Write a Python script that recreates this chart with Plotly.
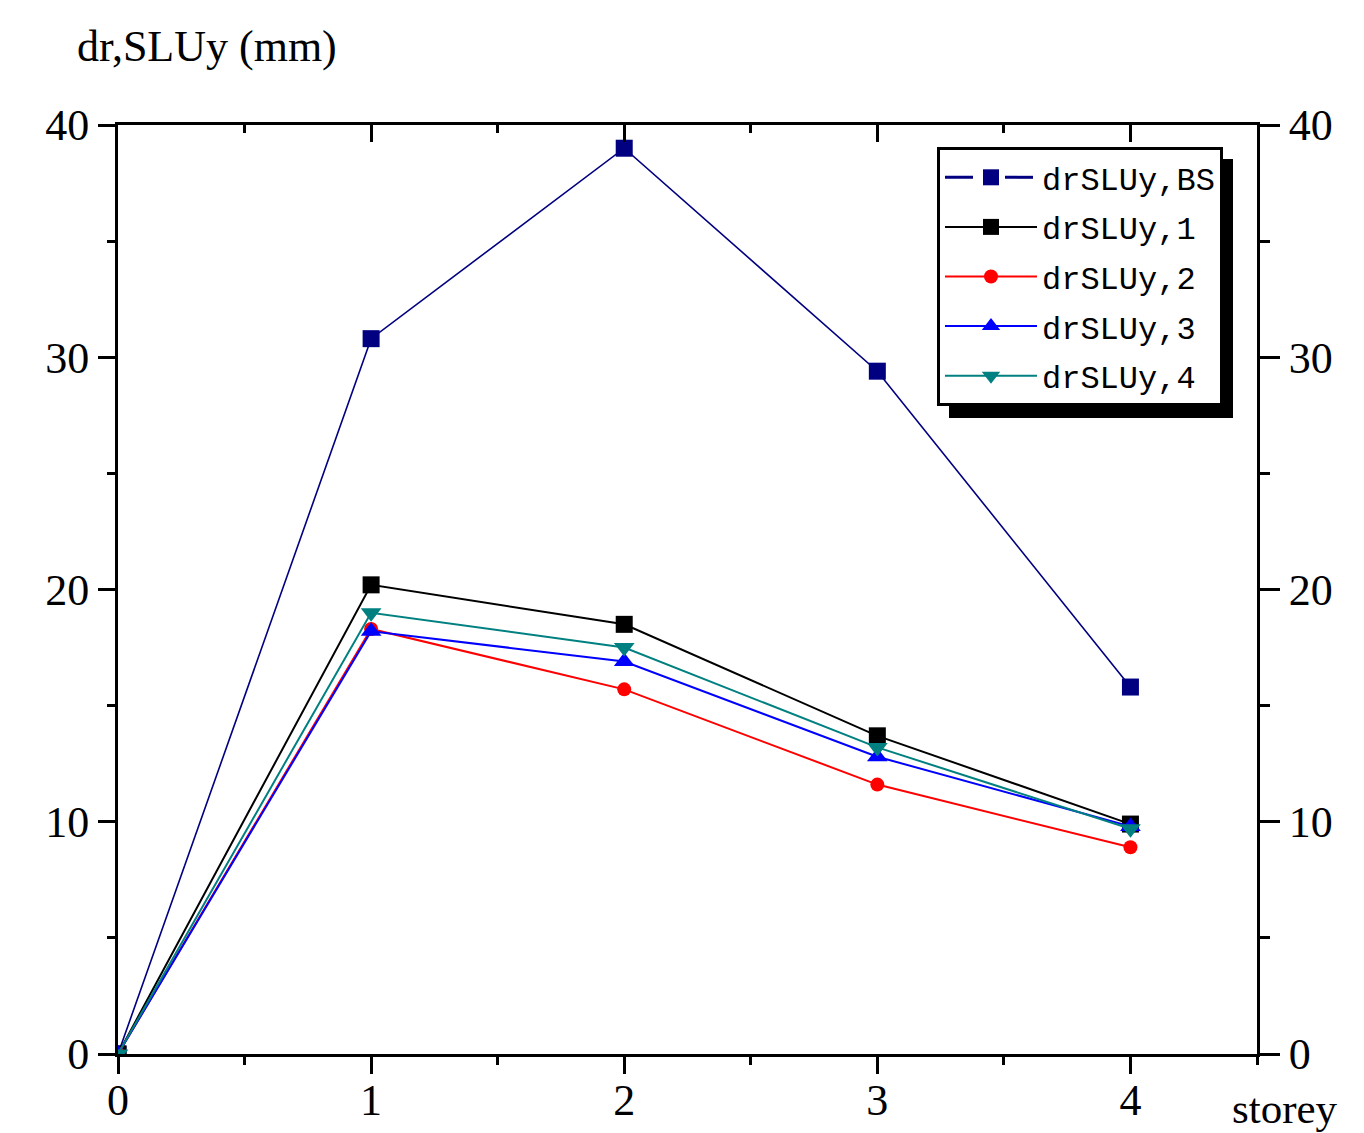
import plotly.graph_objects as go

storey = [0, 1, 2, 3, 4]
dr_bs = [0, 30.8, 39.0, 29.4, 15.8]
dr_1 = [0, 20.2, 18.5, 13.7, 9.9]
dr_2 = [0, 18.3, 15.7, 11.6, 8.9]
dr_3 = [0, 18.2, 16.9, 12.8, 9.8]
dr_4 = [0, 19.0, 17.5, 13.2, 9.7]

series = [
    ("drSLUy,BS", dr_bs, "#000080", "square", 17),
    ("drSLUy,1", dr_1, "#000000", "square", 17),
    ("drSLUy,2", dr_2, "#FF0000", "circle", 14),
    ("drSLUy,3", dr_3, "#0000FF", "triangle-up", 18),
    ("drSLUy,4", dr_4, "#008080", "triangle-down", 18),
]

fig = go.Figure()
for name, vals, color, sym, size in series:
    is_bs = name.endswith("BS")
    if is_bs:
        fig.add_trace(go.Scatter(
            x=[None], y=[None], name=name, mode="lines+markers", legendgroup=name,
            line=dict(color=color, width=3, dash="28px,32px"),
            marker=dict(symbol=sym, size=size, color=color),
        ))
    fig.add_trace(go.Scatter(
        x=storey, y=vals, name=name, mode="lines+markers", legendgroup=name,
        showlegend=not is_bs,
        line=dict(color=color, width=2 if not is_bs else 1.6),
        marker=dict(symbol=sym, size=size, color=color),
    ))

serif = "Liberation Serif"
axis_common = dict(showline=True, linecolor="black", linewidth=3, showgrid=False, zeroline=False,
                   tickcolor="black", tickwidth=3, automargin=False,
                   tickfont=dict(family=serif, size=44, color="black"))

PW, PH = 1139, 929  # plot area size in px
fig.update_layout(
    width=1356, height=1125,
    margin=dict(l=110, r=107, t=117, b=79, autoexpand=False),
    paper_bgcolor="white", plot_bgcolor="white",
    showlegend=True,
    legend=dict(x=(937 - 118) / PW, y=(1054 - 147) / PH, xanchor="left", yanchor="top",
                bgcolor="white", bordercolor="black", borderwidth=3,
                font=dict(family="Liberation Mono", size=32, color="black"),
                itemwidth=92, tracegroupgap=5),
    xaxis=dict(range=[0, 4.5], dtick=1, tick0=0, ticks="outside", ticklen=17, showticklabels=False,
               minor=dict(dtick=0.5, ticks="outside", ticklen=8, tickcolor="black", tickwidth=3),
               **axis_common),
    xaxis2=dict(range=[0, 4.5], overlaying="x", side="top", dtick=1, tick0=0, ticks="inside", ticklen=17,
                showticklabels=False,
                minor=dict(dtick=0.5, ticks="inside", ticklen=8, tickcolor="black", tickwidth=3),
                **axis_common),
    xaxis3=dict(range=[0, 4.5], overlaying="x", anchor="free", position=0, side="bottom",
                dtick=1, tick0=0, ticks="", ticklabelstandoff=16, showline=False, showgrid=False,
                zeroline=False, automargin=False,
                tickfont=dict(family=serif, size=44, color="black")),
    yaxis=dict(range=[0, 40], dtick=10, tick0=0, ticks="outside", ticklen=17,
               minor=dict(dtick=5, ticks="outside", ticklen=8, tickcolor="black", tickwidth=3),
               **axis_common),
    yaxis2=dict(range=[0, 40], overlaying="y", side="right", dtick=10, tick0=0, ticks="outside", ticklen=20,
                minor=dict(dtick=5, ticks="outside", ticklen=10, tickcolor="black", tickwidth=3),
                **axis_common),
    annotations=[
        dict(text="dr,SLUy (mm)", xref="paper", yref="paper", x=(75 - 118) / PW, y=(1054 - 47) / PH,
             xanchor="left", yanchor="middle", showarrow=False,
             font=dict(family=serif, size=44, color="black")),
        dict(text="storey", xref="paper", yref="paper", x=(1230 - 118) / PW, y=(1054 - 1108) / PH,
             xanchor="left", yanchor="middle", showarrow=False,
             font=dict(family=serif, size=43, color="black")),
    ],
    shapes=[
        dict(type="rect", xref="paper", yref="paper",
             x0=(949 - 118) / PW, x1=(1233 - 118) / PW,
             y0=(1054 - 418) / PH, y1=(1054 - 159) / PH,
             fillcolor="black", line=dict(width=0), layer="above"),
    ],
)
fig.add_trace(go.Scatter(x=[None], y=[None], xaxis="x2", yaxis="y2", showlegend=False, hoverinfo="skip"))
fig.add_trace(go.Scatter(x=[None], y=[None], xaxis="x3", yaxis="y", showlegend=False, hoverinfo="skip"))

fig.write_html("out.html")
